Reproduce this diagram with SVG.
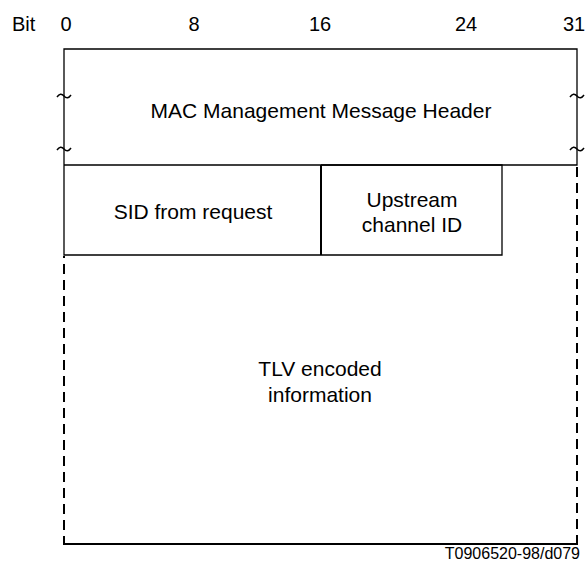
<svg xmlns="http://www.w3.org/2000/svg" width="586" height="561" viewBox="0 0 586 561">
<style>
text{font-family:"Liberation Sans",Arial,sans-serif;font-size:21px;fill:#000}
.b{font-size:20px}
.s{stroke:#000;stroke-width:1.3;fill:none}
.d{stroke:#000;stroke-width:2;stroke-dasharray:10 6;fill:none}
.t{stroke:#000;stroke-width:1.5;fill:none}
</style>
<rect width="586" height="561" fill="#fff"/>
<g id="bits">
<text class="b" x="12" y="31">Bit</text>
<text class="b" x="66" y="31" text-anchor="middle">0</text>
<text class="b" x="194" y="31" text-anchor="middle">8</text>
<text class="b" x="320" y="31" text-anchor="middle">16</text>
<text class="b" x="466" y="31" text-anchor="middle">24</text>
<text class="b" x="574" y="31" text-anchor="middle">31</text>
</g>
<g id="header">
<path class="s" d="M64 165 V49 H577 V165 H64"/>
<path class="t" d="M57 97 q3.5 -5 7 -1 t7 -1 M57 150 q3.5 -5 7 -1 t7 -1"/>
<path class="t" d="M570 97 q3.5 -5 7 -1 t7 -1 M570 150 q3.5 -5 7 -1 t7 -1"/>
<text x="321" y="118" text-anchor="middle">MAC Management Message Header</text>
</g>
<g id="sid">
<path class="s" d="M64 165 V255 H321"/>
<text x="193" y="219" text-anchor="middle">SID from request</text>
</g>
<g id="upstream">
<path class="s" d="M321 165 H502 V255 H321"/>
<path d="M321 165 V255" stroke="#000" stroke-width="2"/>
<text x="412" y="207" text-anchor="middle">Upstream</text>
<text x="412" y="232" text-anchor="middle">channel ID</text>
</g>
<g id="tlv">
<path class="d" d="M64 256 V544" stroke-dashoffset="-8"/>
<path class="d" d="M577 166 V544" stroke-dashoffset="-1"/>
<path d="M63 544 H578" stroke="#000" stroke-width="2"/>
<text x="320" y="376" text-anchor="middle">TLV encoded</text>
<text x="320" y="402" text-anchor="middle">information</text>
</g>
<text x="580" y="559" text-anchor="end" style="font-size:16px">T0906520-98/d079</text>
</svg>
